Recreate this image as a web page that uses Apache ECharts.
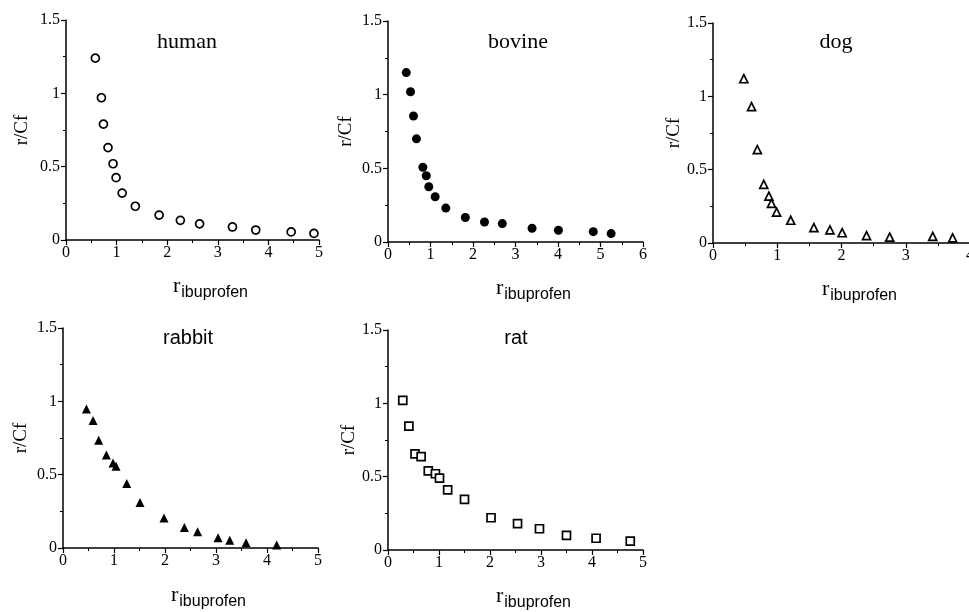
<!DOCTYPE html>
<html>
<head>
<meta charset="utf-8">
<script src="https://cdn.jsdelivr.net/npm/echarts@6/dist/echarts.min.js"></script>
<style>
  html, body { margin: 0; padding: 0; background: #fff; }
  #chart { width: 969px; height: 612px; }
</style>
</head>
<body>
<div id="chart"></div>
<script>
// values (x = r ibuprofen, y = r/Cf)
const humanX = [0.58, 0.70, 0.74, 0.83, 0.93, 0.99, 1.11, 1.37, 1.84, 2.26, 2.64, 3.29, 3.75, 4.45, 4.90];
const humanY = [1.24, 0.97, 0.79, 0.63, 0.52, 0.425, 0.32, 0.23, 0.17, 0.134, 0.11, 0.089, 0.068, 0.055, 0.045];

const bovineX = [0.43, 0.53, 0.60, 0.67, 0.82, 0.90, 0.96, 1.11, 1.36, 1.82, 2.27, 2.69, 3.39, 4.01, 4.83, 5.25];
const bovineY = [1.15, 1.02, 0.855, 0.70, 0.507, 0.45, 0.375, 0.307, 0.23, 0.166, 0.136, 0.125, 0.093, 0.08, 0.07, 0.057];

const dogX = [0.48, 0.60, 0.69, 0.79, 0.87, 0.91, 0.99, 1.21, 1.57, 1.82, 2.01, 2.39, 2.75, 3.42, 3.73];
const dogY = [1.12, 0.93, 0.636, 0.40, 0.32, 0.27, 0.21, 0.155, 0.105, 0.09, 0.07, 0.05, 0.04, 0.045, 0.035];

const rabbitX = [0.46, 0.59, 0.70, 0.85, 0.98, 1.04, 1.25, 1.51, 1.98, 2.38, 2.64, 3.04, 3.27, 3.59, 4.19];
const rabbitY = [0.948, 0.87, 0.734, 0.634, 0.58, 0.557, 0.44, 0.31, 0.205, 0.139, 0.111, 0.07, 0.052, 0.036, 0.02];

const ratX = [0.29, 0.41, 0.53, 0.65, 0.79, 0.93, 1.01, 1.17, 1.50, 2.02, 2.54, 2.97, 3.50, 4.08, 4.75];
const ratY = [1.02, 0.845, 0.655, 0.636, 0.54, 0.52, 0.49, 0.41, 0.345, 0.22, 0.18, 0.145, 0.10, 0.08, 0.061];

const panelNames = ['human', 'bovine', 'dog', 'rabbit', 'rat'];
const xMaxes = [5, 6, 4, 5, 5];
const yTicksMax = 1.5;

const chart = echarts.init(document.getElementById('chart'));

const serif = 'Liberation Serif';
const sans = 'Liberation Sans';
const ink = '#000';

// grid boxes of the five panels (outerBoundsMode none so v6 does not shrink them)
const grids = [
  { left: 66, top: 20, width: 253, height: 220 },
  { left: 388, top: 21, width: 255, height: 221 },
  { left: 713, top: 23, width: 257, height: 220 },
  { left: 63, top: 328, width: 255, height: 220 },
  { left: 388, top: 330, width: 255, height: 220 }
].map(g => Object.assign({ containLabel: false, outerBoundsMode: 'none' }, g));

const titlePos = [
  { x: 187, y: 31, font: serif },
  { x: 518, y: 31, font: serif },
  { x: 836, y: 31, font: serif },
  { x: 188, y: 328, font: sans },
  { x: 516, y: 328, font: sans }
];

const xNameGap = [35, 35, 35, 36, 35];
const yNameGap = [34, 32, 27, 32, 29];

const axisLine = { lineStyle: { color: ink, width: 1.5 } };

const xAxes = grids.map((g, i) => ({
  gridIndex: i,
  type: 'value',
  min: 0,
  max: xMaxes[i],
  interval: 1,
  splitLine: { show: false },
  axisLine: axisLine,
  axisTick: { length: 5, lineStyle: { color: ink, width: 1.2 } },
  minorTick: { show: true, splitNumber: 2, length: 3, lineStyle: { color: ink, width: 1 } },
  axisLabel: { color: ink, fontFamily: serif, fontSize: 16, margin: 5 },
  name: '{r|r}{s|ibuprofen}',
  nameLocation: 'middle',
  nameGap: xNameGap[i],
  nameTextStyle: {
    padding: [0, 0, 0, 36],
    rich: {
      r: { fontFamily: serif, fontSize: 22, color: ink, verticalAlign: 'top' },
      s: { fontFamily: sans, fontSize: 16, color: ink, padding: [10, 0, 0, 1] }
    }
  }
}));

const yAxes = grids.map((g, i) => ({
  gridIndex: i,
  type: 'value',
  min: 0,
  max: yTicksMax,
  interval: 0.5,
  splitLine: { show: false },
  axisLine: axisLine,
  axisTick: { length: 5, lineStyle: { color: ink, width: 1.2 } },
  minorTick: { show: true, splitNumber: 2, length: 3, lineStyle: { color: ink, width: 1 } },
  axisLabel: { color: ink, fontFamily: serif, fontSize: 16, margin: 6 },
  name: 'r/Cf',
  nameLocation: 'middle',
  nameRotate: 90,
  nameGap: yNameGap[i],
  nameTextStyle: { fontFamily: serif, fontSize: 19, color: ink }
}));

function pairs(xs, ys) {
  return xs.map((x, k) => [x, ys[k]]);
}

const hollow = { color: '#fff', borderColor: ink, borderWidth: 1.7, opacity: 1 };
const filled = { color: ink, opacity: 1 };

const options = {
  animation: false,
  backgroundColor: '#fff',
  title: panelNames.map((n, i) => ({
    text: n,
    left: titlePos[i].x,
    top: titlePos[i].y,
    textAlign: 'center',
    padding: 0,
    textStyle: { fontFamily: titlePos[i].font, fontSize: i < 3 ? 22 : 20, fontWeight: 'normal', color: ink }
  })),
  grid: grids,
  xAxis: xAxes,
  yAxis: yAxes,
  series: [
    { name: 'human', type: 'scatter', xAxisIndex: 0, yAxisIndex: 0, symbol: 'circle', symbolSize: 8, itemStyle: hollow, data: pairs(humanX, humanY) },
    { name: 'bovine', type: 'scatter', xAxisIndex: 1, yAxisIndex: 1, symbol: 'circle', symbolSize: 9, itemStyle: filled, data: pairs(bovineX, bovineY) },
    { name: 'dog', type: 'scatter', xAxisIndex: 2, yAxisIndex: 2, symbol: 'triangle', symbolSize: 8, itemStyle: hollow, data: pairs(dogX, dogY) },
    { name: 'rabbit', type: 'scatter', xAxisIndex: 3, yAxisIndex: 3, symbol: 'triangle', symbolSize: 9, itemStyle: filled, data: pairs(rabbitX, rabbitY) },
    { name: 'rat', type: 'scatter', xAxisIndex: 4, yAxisIndex: 4, symbol: 'rect', symbolSize: 8, itemStyle: hollow, data: pairs(ratX, ratY) }
  ]
};

chart.setOption(options);
</script>
</body>
</html>
